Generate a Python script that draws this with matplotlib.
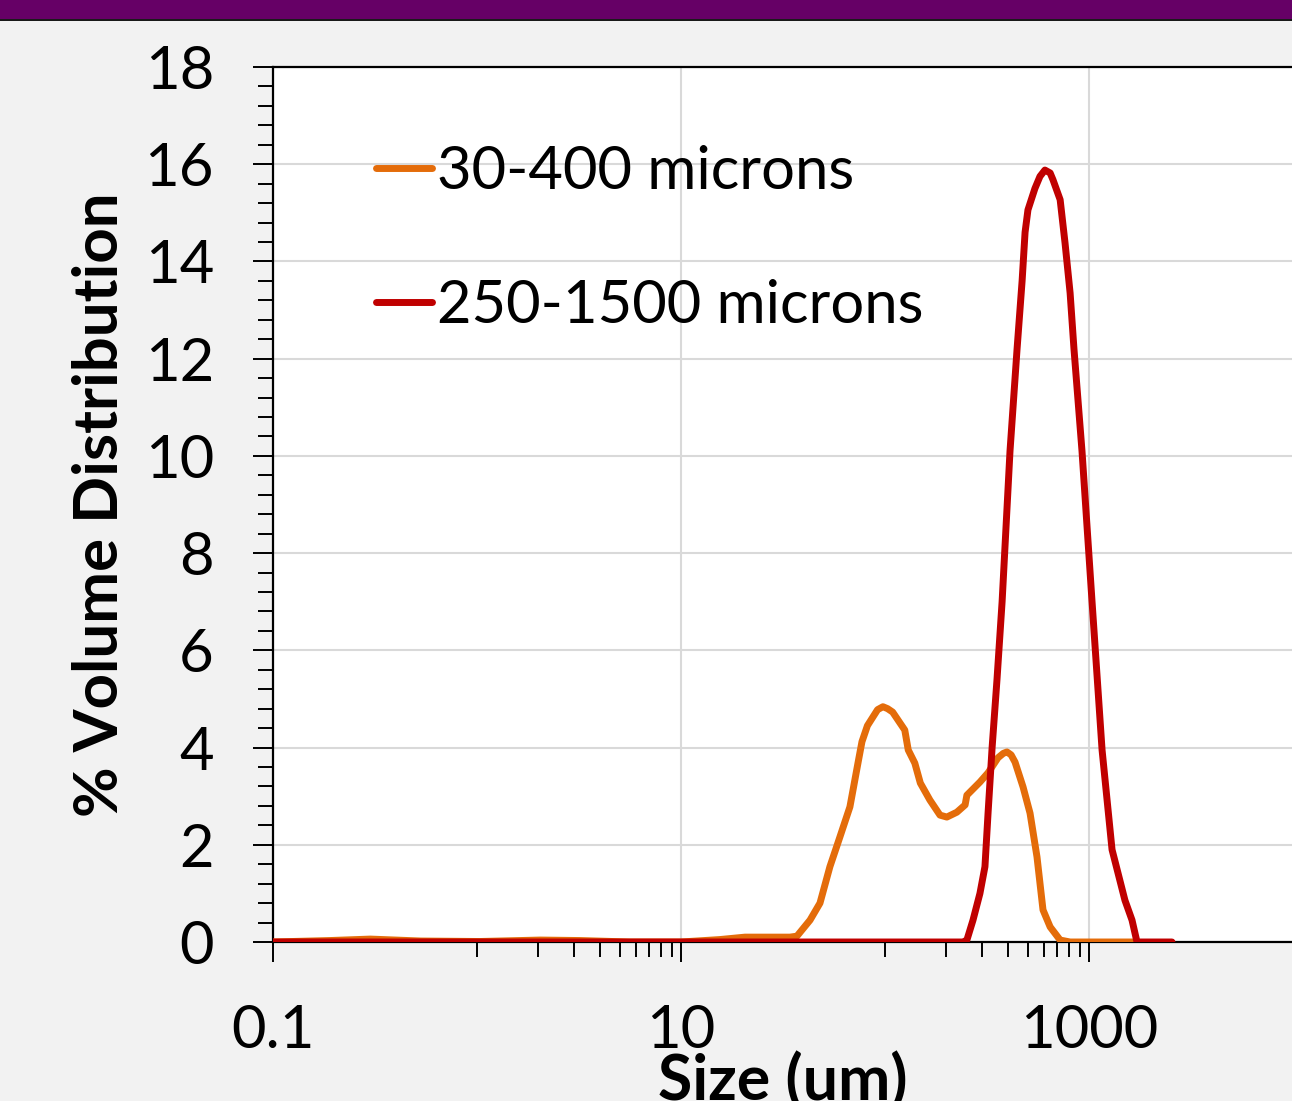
import matplotlib
matplotlib.use('Agg')
import matplotlib.pyplot as plt
from matplotlib.patches import Rectangle

plt.rcParams['font.family'] = ['Lato', 'DejaVu Sans']

# particle size (um) and % volume
size_small = [0.1, 0.19, 0.30, 0.53, 1.03, 2.04, 3.2, 5.6, 10, 15.5, 20.6, 34.2, 37.0,
              42.9, 48.0, 53.7, 60.1, 67.3, 73.7, 77.1, 82.0, 87.3, 92.0, 97.7, 103, 109,
              125, 130, 140, 149, 166, 186, 201, 225, 247, 252, 292, 320, 358, 380, 396,
              415, 434, 475, 514, 556, 595, 645, 722, 808, 1644]
vol_small = [0, 0.03, 0.06, 0.02, 0.01, 0.04, 0.03, 0.0, 0.0, 0.05, 0.1, 0.1, 0.12,
             0.45, 0.8, 1.55, 2.16, 2.78, 3.68, 4.12, 4.45, 4.63, 4.78, 4.84, 4.80, 4.73,
             4.36, 3.95, 3.68, 3.27, 2.92, 2.61, 2.57, 2.67, 2.82, 3.02, 3.29, 3.48, 3.79,
             3.88, 3.91, 3.85, 3.70, 3.19, 2.65, 1.75, 0.66, 0.31, 0.04, 0, 0]

size_large = [0.1, 241, 252, 270, 292, 309, 320, 335, 354, 375, 410, 444, 470, 486, 502,
              543, 575, 608, 645, 666, 722, 763, 808, 844, 924, 1035, 1159, 1297, 1500,
              1625, 1719, 2552]
vol_large = [0, 0, 0.04, 0.45, 1.0, 1.55, 2.65, 4.0, 5.4, 7.0, 10.1, 12.2, 13.6, 14.6, 15.06,
             15.5, 15.75, 15.88, 15.82, 15.68, 15.27, 14.38, 13.35, 12.2, 10.1, 7.0, 3.95,
             1.9, 0.86, 0.45, 0, 0]

labels = ['30-400 microns', '250-1500 microns']
colors = ['#E46C0A', '#C00000']

W, H = 1292, 1101
fig = plt.figure(figsize=(W / 100, H / 100), dpi=100)
fig.patch.set_facecolor('#f2f2f2')
fig.patches.append(Rectangle((0, 1 - 19 / H), 1, 19 / H, transform=fig.transFigure,
                             facecolor='#660066', edgecolor='none'))
fig.patches.append(Rectangle((0, 1 - 21 / H), 1, 2.5 / H, transform=fig.transFigure,
                             facecolor='#1a1a1a', edgecolor='none'))

ax = fig.add_axes([273 / W, 159 / H, (1497 - 273) / W, 875 / H])
ax.set_facecolor('white')
ax.plot(size_small, vol_small, color=colors[0], lw=5, label=labels[0],
        solid_joinstyle='round', solid_capstyle='round', zorder=3)
ax.plot(size_large, vol_large, color=colors[1], lw=5, label=labels[1],
        solid_joinstyle='round', solid_capstyle='round', zorder=4)

ax.set_xscale('log')
ax.set_xlim(0.1, 1e5)
ax.set_ylim(0, 18)
ax.set_xticks([0.1, 10, 1000])
ax.set_xticklabels(['0.1', '10', '1000'])
minor = [m * d for d in (1, 100) for m in range(1, 10)]
ax.set_xticks(minor, minor=True)
ax.set_xticklabels([], minor=True)
ax.set_yticks(range(0, 19, 2))
ax.set_yticks([i * 0.4 for i in range(46)], minor=True)

ax.grid(True, which='major', color='#d9d9d9', lw=1.5, zorder=0)
ax.set_axisbelow(True)
for s in ['left', 'bottom', 'top', 'right']:
    ax.spines[s].set_color('black')
    ax.spines[s].set_linewidth(1.6)
ax.tick_params(which='major', direction='out', length=14.5, width=1.4, labelsize=43,
               colors='black', pad=28)
ax.tick_params(which='minor', direction='out', length=11, width=1.4, colors='black')
ax.tick_params(axis='x', which='major', pad=30)

ax.legend(loc='upper left', bbox_to_anchor=(376 / W, 1 - 145 / H),
          bbox_transform=fig.transFigure, frameon=False, fontsize=43,
          handlelength=0.94, handletextpad=0.08, labelspacing=1.34,
          borderpad=0, borderaxespad=0)

fig.text(100 / W, 1 - 505 / H, '% Volume Distribution', rotation=90, ha='center',
         va='center', fontsize=44.5, fontweight='bold')
fig.text(783 / W, 1 / H, 'Size (um)', ha='center', va='baseline', fontsize=45,
         fontweight='bold')

fig.savefig('out.png', dpi=100, facecolor=fig.get_facecolor())
